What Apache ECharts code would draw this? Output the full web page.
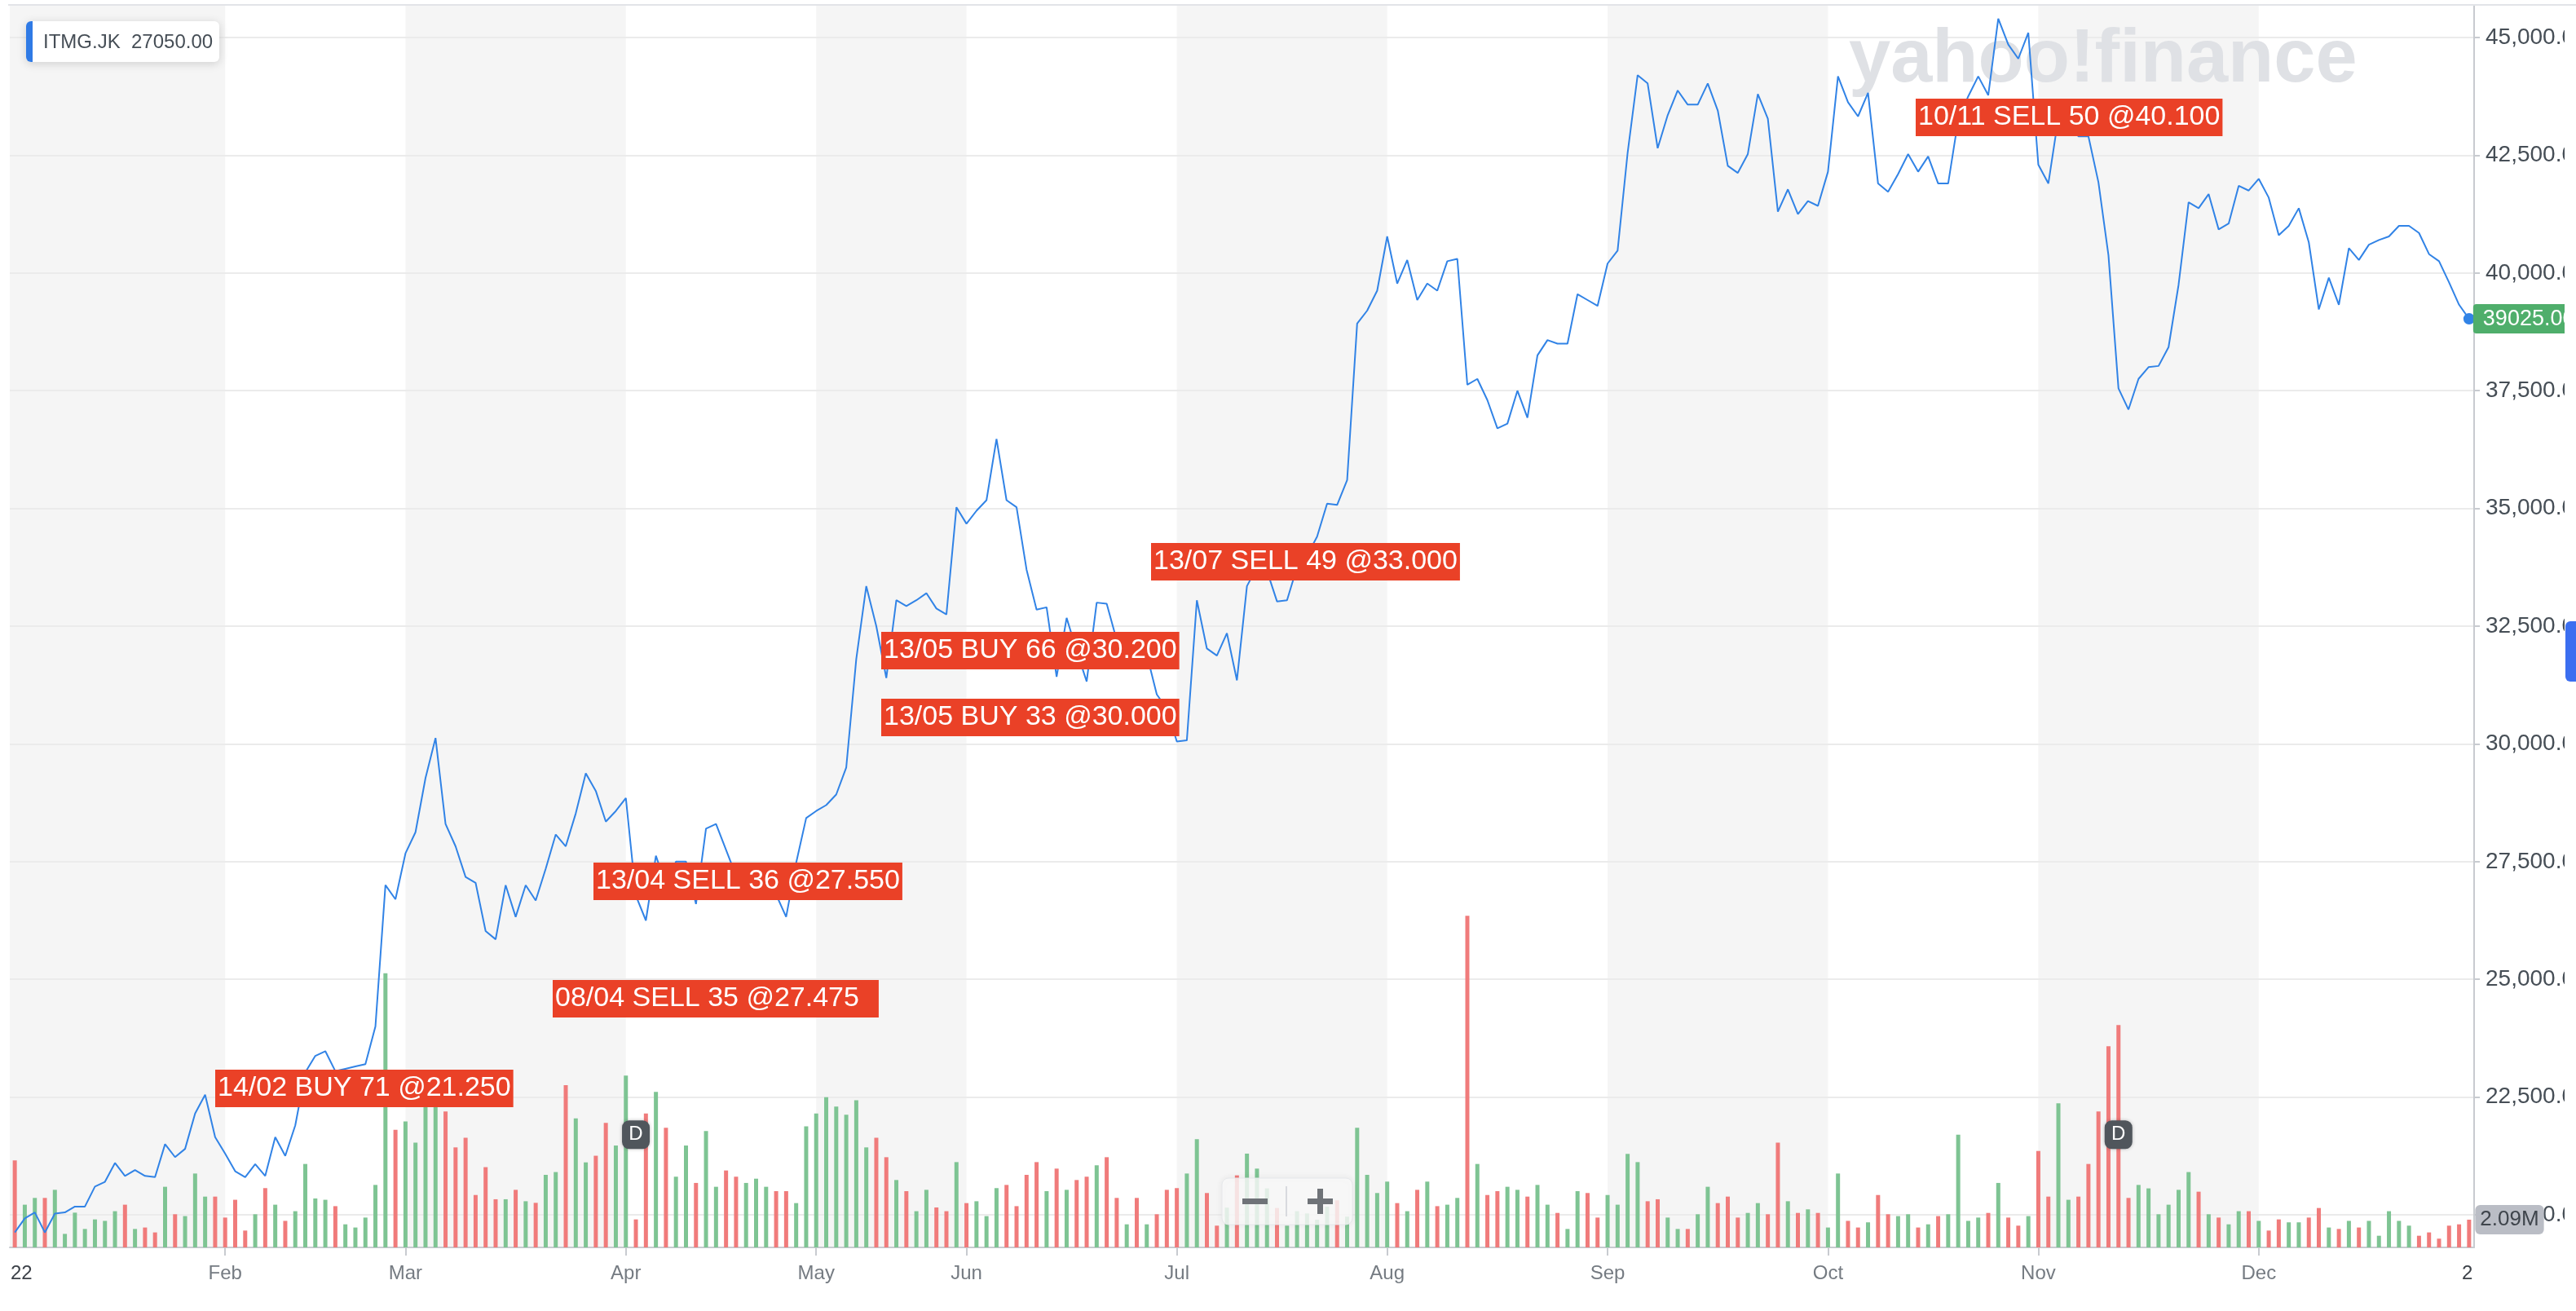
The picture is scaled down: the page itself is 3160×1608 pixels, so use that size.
<!DOCTYPE html>
<html>
<head>
<meta charset="utf-8">
<title>ITMG.JK</title>
<script src="https://cdn.jsdelivr.net/npm/echarts@6.0.0/dist/echarts.min.js"></script>
<style>
  html, body { margin: 0; padding: 0; background: #fff; }
  #price-chart { width: 3160px; height: 1608px; }
</style>
</head>
<body>
<div id="price-chart"></div>
<script>
// months and trading days per month (one bar per trading day)
const monthNames = ['Jan', 'Feb', 'Mar', 'Apr', 'May', 'Jun', 'Jul', 'Aug', 'Sep', 'Oct', 'Nov', 'Dec'];
const tradingDays = [21, 18, 22, 19, 15, 21, 21, 22, 22, 21, 22, 22];

// daily close
const prices = [
  19625, 19925, 20050, 19625, 20025, 20050, 20175, 20175, 20600, 20700,
  21100, 20825, 20950, 20825, 20800, 21500, 21225, 21400, 22150, 22550,
  21650, 21300, 20925, 20800, 21075, 20825, 21650, 21250, 21900, 23025,
  23375, 23475, 23050, 23100, 23150, 23200, 24000, 27000, 26700, 27675,
  28125, 29275, 30125, 28300, 27825, 27175, 27050, 26025, 25850, 27000,
  26325, 27000, 26675, 27350, 28075, 27825, 28525, 29375, 29000, 28350,
  28575, 28850, 26775, 26250, 27625, 27000, 27500, 27500, 26600, 28200,
  28300, 27750, 27200, 27100, 27250, 27050, 26800, 26325, 27475, 28425,
  28575, 28700, 28925, 29500, 31800, 33350, 32500, 31400, 33050, 32925,
  33050, 33200, 32875, 32750, 35025, 34675, 34950, 35175, 36475, 35175,
  35025, 33700, 32850, 32900, 31425, 32675, 31975, 31325, 33000, 32975,
  32200, 32000, 32300, 31900, 31050, 30750, 30050, 30075, 33050, 32025,
  31875, 32350, 31350, 33350, 33750, 33675, 33025, 33050, 33750, 34000,
  34400, 35100, 35075, 35600, 38925, 39200, 39625, 40775, 39775, 40275,
  39425, 39775, 39625, 40250, 40300, 37625, 37750, 37300, 36700, 36800,
  37500, 36925, 38250, 38575, 38500, 38500, 39550, 39425, 39300, 40200,
  40475, 42550, 44200, 44025, 42650, 43350, 43875, 43575, 43575, 44025,
  43450, 42275, 42125, 42525, 43800, 43275, 41300, 41775, 41250, 41525,
  41425, 42150, 44175, 43625, 43325, 43825, 41900, 41725, 42100, 42525,
  42150, 42475, 41900, 41900, 43250, 43750, 44175, 43775, 45400, 44850,
  44550, 45100, 42300, 41900, 43300, 43400, 42900, 42900, 41925, 40375,
  37550, 37100, 37750, 38000, 38025, 38425, 39750, 41500, 41375, 41675,
  40925, 41050, 41850, 41750, 42000, 41600, 40800, 41000, 41375, 40650,
  39225, 39900, 39325, 40525, 40275, 40600, 40700, 40775, 41000, 41000,
  40850, 40400, 40250, 39800, 39325, 39025
];

// daily volume, millions
const volumes = [
  6.56, 3.22, 3.73, 3.73, 4.34, 1.02, 2.62, 1.39, 2.11, 2.0,
  2.73, 3.22, 1.39, 1.5, 1.13, 4.57, 2.5, 2.36, 5.57, 3.83,
  3.83, 2.25, 3.59, 1.27, 2.5, 4.47, 3.22, 2.0, 2.73, 6.29,
  3.69, 3.59, 3.11, 1.74, 1.5, 2.25, 4.71, 20.66, 8.87, 9.49,
  7.89, 12.0, 11.5, 10.25, 7.54, 8.26, 3.95, 6.05, 3.63, 3.63,
  4.34, 3.48, 3.36, 5.47, 5.68, 12.23, 9.73, 6.41, 6.91, 9.39,
  7.68, 12.95, 2.11, 10.1, 11.72, 9.02, 5.33, 7.68, 4.86, 8.77,
  4.57, 5.8, 5.33, 4.86, 5.18, 4.57, 4.24, 4.24, 3.34, 9.12,
  10.1, 11.33, 10.61, 10.0, 11.1, 7.54, 8.26, 6.8, 5.08, 4.24,
  2.73, 4.34, 3.01, 2.73, 6.43, 3.34, 3.48, 2.36, 4.47, 4.71,
  3.11, 5.47, 6.43, 4.24, 5.94, 4.34, 5.08, 5.33, 6.19, 6.8,
  3.73, 1.74, 3.73, 1.74, 2.5, 4.34, 4.47, 5.57, 8.16, 4.1,
  1.64, 3.0, 5.43, 7.07, 5.94, 4.45, 2.97, 1.64, 2.73, 2.56,
  2.09, 3.07, 3.55, 2.32, 9.02, 5.47, 4.1, 4.96, 3.34, 2.73,
  4.34, 4.96, 3.11, 3.22, 3.73, 25.0, 6.29, 3.95, 4.24, 4.57,
  4.34, 3.83, 4.71, 3.22, 2.6, 1.39, 4.24, 4.1, 2.25, 3.95,
  3.22, 7.05, 6.43, 3.48, 3.63, 2.25, 1.39, 1.39, 2.5, 4.57,
  3.34, 3.83, 2.25, 2.6, 3.34, 2.5, 7.89, 3.48, 2.6, 2.87,
  2.6, 1.5, 5.57, 2.0, 1.5, 1.89, 3.95, 2.5, 2.36, 2.5,
  1.5, 1.74, 2.36, 2.5, 8.5, 2.0, 2.25, 2.6, 4.86, 2.25,
  1.64, 2.36, 7.27, 3.83, 10.86, 3.59, 3.83, 6.29, 10.25, 15.16,
  16.76, 3.73, 4.71, 4.45, 2.5, 3.22, 4.34, 5.68, 4.2, 2.5,
  2.25, 1.74, 2.73, 2.73, 2.0, 1.27, 2.11, 1.89, 1.89, 2.25,
  2.97, 1.5, 1.39, 2.0, 1.5, 2.0, 0.88, 2.73, 2.0, 1.64,
  0.88, 1.13, 0.66, 1.64, 1.74, 2.09
];

// 1 = up day (green bar), 0 = down day (red bar)
const volUp = [
  0,1,1,0,1,1,1,1,1,1, 1,0,1,0,0,1,0,1,1,1, 0,0,0,0,1,0,1,0,1,1,
  1,1,0,1,1,1,1,1,0,1, 1,1,1,0,0,0,0,0,0,1, 0,1,0,1,1,0,1,1,0,0,
  1,1,0,0,1,0,1,1,0,1, 1,0,0,1,1,1,0,0,1,1, 1,1,1,1,1,1,0,0,1,0,
  1,1,0,0,1,0,1,1,1,0, 0,0,0,1,0,1,0,0,1,0, 0,1,0,1,0,0,0,1,1,0,
  0,1,0,1,1,1,0,1,1,1, 1,1,0,1,1,1,1,1,0,1, 0,1,0,1,1,0,1,0,0,1,
  1,0,1,1,0,1,1,0,0,1, 1,1,1,0,0,1,1,0,1,1, 0,0,0,1,1,0,0,1,0,1,
  0,1,1,0,0,1,0,0,1,1, 0,1,0,1,1,1,1,0,1,0, 0,1,0,0,1,1,0,0,0,0,
  0,0,1,1,1,1,1,1,0,1, 0,1,1,0,1,0,0,1,1,0, 0,1,0,1,0,1,1,1,1,1,
  0,0,0,0,0,0
];

// dividend days (bar index)
const dividendIdx = [62, 210];

// trade notes
const tradeNotes = [
  '14/02 BUY 71 @21.250',
  '08/04 SELL 35 @27.475',
  '13/04 SELL 36 @27.550',
  '13/05 BUY 66 @30.200',
  '13/05 BUY 33 @30.000',
  '13/07 SELL 49 @33.000',
  '10/11 SELL 50 @40.100'
];

const categories = [];
const monthStart = [];
monthNames.forEach((m, k) => {
  monthStart.push(categories.length);
  for (let d = 1; d <= tradingDays[k]; d++) categories.push(m + ' ' + d);
});
const monthStartSet = new Set(monthStart.slice(1));
const isMonthStart = (idx) => monthStartSet.has(idx);
const last = prices.length - 1;

const lineColor = '#3183e6';
const font = '"Liberation Sans", Arial, sans-serif';

// shaded months: Jan, Mar, May, Jul, Sep, Nov
const bandMonths = [0, 2, 4, 6, 8, 10];
function drawBand(params, api) {
  const m = api.value(0);
  const cs = params.coordSys;
  const x0 = m === 0 ? cs.x : api.coord([monthStart[m], 0])[0];
  const x1 = m + 1 < monthStart.length ? api.coord([monthStart[m + 1], 0])[0] : cs.x + cs.width;
  return {
    type: 'rect',
    shape: { x: x0, y: cs.y, width: x1 - x0, height: cs.height },
    style: { fill: '#f5f5f5' }
  };
}

// note box placement
const notePos = [[264, 1312, 3], [678, 1202, 24], [728, 1058, 3], [1081, 775, 3], [1081, 857, 3], [1412, 666, 3], [2350, 121, 3]];

const chart = echarts.init(document.getElementById('price-chart'));

const option = {
  animation: false,
  textStyle: { fontFamily: font },
  grid: [
    { left: 12, right: 125, top: -98.4, bottom: -26.4, containLabel: false, outerBoundsMode: 'none' },
    { left: 12, right: 125, top: 7, bottom: 78, containLabel: false, outerBoundsMode: 'none' }
  ],
  xAxis: [
    { type: 'category', gridIndex: 0, data: categories, boundaryGap: true, show: false },
    {
      type: 'category', gridIndex: 1, data: categories, boundaryGap: true,
      axisLine: { show: true, onZero: false, lineStyle: { color: '#c8cbd0', width: 2 } },
      axisTick: { show: true, alignWithLabel: true, length: 10, interval: isMonthStart, lineStyle: { color: '#c8cbd0', width: 2 } },
      axisLabel: {
        show: true, interval: isMonthStart, margin: 20,
        color: '#757b82', fontSize: 24, fontFamily: font,
        formatter: (v) => v.split(' ')[0]
      },
      splitLine: { show: false }
    }
  ],
  yAxis: [
    {
      type: 'value', gridIndex: 0, position: 'right',
      min: 17500, max: 47500, interval: 2500,
      axisLine: { show: false },
      axisTick: { show: true, length: 7, lineStyle: { color: '#c8cbd0', width: 2 } },
      axisLabel: {
        margin: 14, color: '#464e56', fontSize: 28, fontFamily: font,
        formatter: (v) => v.toLocaleString('en-US', { minimumFractionDigits: 2, maximumFractionDigits: 2 })
      },
      splitLine: { show: true, lineStyle: { color: '#ebebeb', width: 2 } }
    },
    {
      type: 'value', gridIndex: 1, position: 'right', min: 0, max: 93.6,
      axisLine: { show: true, lineStyle: { color: '#c8cbd0', width: 2 } },
      axisTick: { show: false },
      axisLabel: { show: false },
      splitLine: { show: false }
    }
  ],
  series: [
    {
      type: 'custom', xAxisIndex: 1, yAxisIndex: 1, z: -1, silent: true,
      renderItem: drawBand,
      data: bandMonths.map((m) => [m, 0])
    },
    {
      type: 'bar', xAxisIndex: 1, yAxisIndex: 1, barWidth: 5, z: 2, silent: true,
      data: volumes.map((v, k) => ({ value: v, itemStyle: { color: volUp[k] ? '#7ec493' : '#f07b7b' } })),
      markPoint: {
        silent: true,
        data: [{
          coord: [categories[last], volumes[last]], value: volumes[last],
          symbol: 'rect', symbolSize: 1, itemStyle: { color: 'rgba(0,0,0,0)' },
          label: {
            show: true, position: 'right', distance: 7,
            formatter: (p) => Number(p.value).toFixed(2) + 'M',
            color: '#3f454c', fontSize: 26, fontFamily: font,
            backgroundColor: '#babdc5', padding: [6, 6, 4, 6], borderRadius: 6
          }
        }]
      }
    },
    {
      type: 'line', xAxisIndex: 0, yAxisIndex: 0, data: prices, z: 5,
      showSymbol: false, symbol: 'none', silent: true,
      lineStyle: { color: lineColor, width: 2 },
      endLabel: {
        show: true, distance: 5,
        formatter: (p) => Number(Array.isArray(p.value) ? p.value[1] : p.value).toFixed(2),
        color: '#fff', fontSize: 27, fontFamily: font,
        backgroundColor: '#4fae6b', padding: [5, 12, 4, 12], borderRadius: 4
      },
      markPoint: {
        silent: true,
        data: dividendIdx.map((i) => ({
          coord: [categories[i], 21700],
          symbol: 'roundRect', symbolSize: [34, 35],
          itemStyle: { color: '#50565c', shadowBlur: 4, shadowColor: 'rgba(0,0,0,0.25)' },
          label: { show: true, position: 'inside', formatter: 'D', color: '#fff', fontSize: 24, fontFamily: font }
        })).concat([{
          coord: [categories[last], prices[last]],
          symbol: 'circle', symbolSize: 14,
          itemStyle: { color: lineColor },
          label: { show: false }
        }])
      }
    }
  ],
  graphic: [
    // watermark
    {
      type: 'text', z: 1, silent: true, x: 2268, y: 75,
      style: { text: 'yahoo!finance', font: 'bold 92px ' + font, fill: '#dfe1e5', verticalAlign: 'middle', textVerticalAlign: 'middle' }
    },
    // right-hand clip of the label column
    { type: 'rect', z: 90, silent: true, shape: { x: 3146, y: 0, width: 14, height: 1608 }, style: { fill: '#fff' } },
    { type: 'line', z: 95, silent: true, shape: { x1: 10, y1: 6, x2: 3160, y2: 6 }, style: { stroke: '#e2e4e8', lineWidth: 2 } },
    { type: 'rect', z: 95, silent: true, shape: { x: 3147, y: 762, width: 24, height: 74, r: 6 }, style: { fill: '#3b6ef0' } },
    // symbol box
    {
      type: 'rect', z: 100, silent: true, shape: { x: 32, y: 26, width: 237, height: 50, r: 6 },
      style: { fill: '#fff', shadowBlur: 12, shadowColor: 'rgba(0,0,0,0.16)', shadowOffsetY: 2 }
    },
    { type: 'rect', z: 101, silent: true, shape: { x: 32, y: 26, width: 8, height: 50, r: [6, 0, 0, 6] }, style: { fill: '#2f7ae5' } },
    {
      type: 'text', z: 101, silent: true, x: 53, y: 52,
      style: { text: 'ITMG.JK  27050.00', font: '24px ' + font, fill: '#464e56', verticalAlign: 'middle', textVerticalAlign: 'middle' }
    },
    // zoom control
    {
      type: 'rect', z: 100, silent: true, shape: { x: 1499, y: 1445, width: 160, height: 57, r: 8 },
      style: { fill: 'rgba(250,250,250,0.82)', stroke: '#e6e8eb', lineWidth: 1, shadowBlur: 8, shadowColor: 'rgba(0,0,0,0.08)' }
    },
    { type: 'rect', z: 101, silent: true, shape: { x: 1524, y: 1470, width: 31, height: 7 }, style: { fill: '#6f7378' } },
    { type: 'line', z: 101, silent: true, shape: { x1: 1578, y1: 1455, x2: 1578, y2: 1492 }, style: { stroke: '#d8dade', lineWidth: 2 } },
    { type: 'rect', z: 101, silent: true, shape: { x: 1604, y: 1470, width: 31, height: 7 }, style: { fill: '#6f7378' } },
    { type: 'rect', z: 101, silent: true, shape: { x: 1616, y: 1458, width: 7, height: 31 }, style: { fill: '#6f7378' } },
    // year labels at the axis ends
    {
      type: 'text', z: 100, silent: true, x: 13, y: 1562,
      style: { text: '22', font: '24px ' + font, fill: '#3c4148', verticalAlign: 'middle', textVerticalAlign: 'middle' }
    },
    {
      type: 'text', z: 100, silent: true, x: 3020, y: 1562,
      style: { text: '2', font: '24px ' + font, fill: '#3c4148', verticalAlign: 'middle', textVerticalAlign: 'middle' }
    }
  ].concat(tradeNotes.map((t, k) => ({
    type: 'text', z: 100, silent: true, x: notePos[k][0], y: notePos[k][1],
    style: {
      text: t, font: '34px ' + font, fill: '#fff', lineHeight: 36,
      backgroundColor: '#ea4127', padding: [5, notePos[k][2], 5, 3],
      verticalAlign: 'top', textVerticalAlign: 'top'
    }
  })))
};

chart.setOption(option);
</script>
</body>
</html>
